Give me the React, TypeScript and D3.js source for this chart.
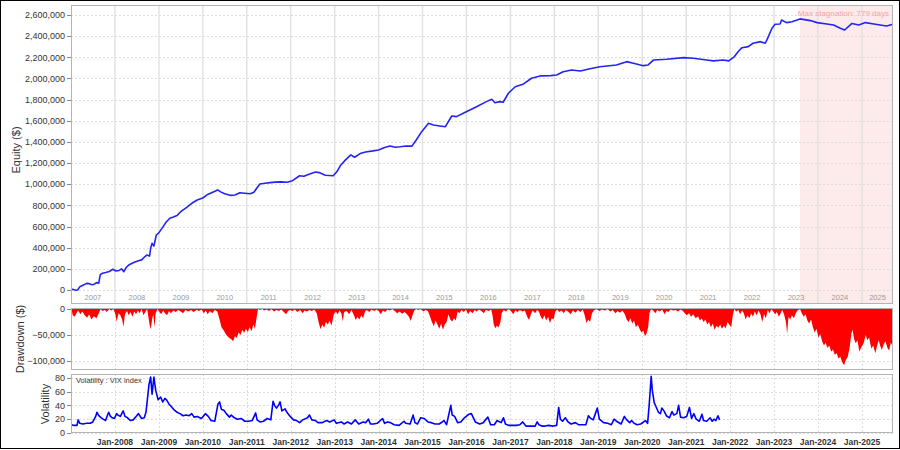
import React from "react";
import * as d3 from "d3";

// ---------- DATA ----------
// Equity curve (thousands of $)
const equityDates = [
  "2007-01-01","2007-01-20","2007-02-10","2007-02-25","2007-03-15","2007-04-10","2007-05-10","2007-06-01","2007-06-25","2007-07-15",
  "2007-08-01","2007-08-20","2007-09-01","2007-09-20","2007-10-15","2007-11-15","2007-12-15","2008-01-10","2008-02-05","2008-02-25",
  "2008-03-15","2008-04-05","2008-04-25","2008-05-20","2008-06-15","2008-07-15","2008-08-10","2008-09-01","2008-09-25","2008-10-15",
  "2008-10-25","2008-11-05","2008-11-20","2008-12-10","2008-12-31","2009-02-05","2009-03-01","2009-04-01","2009-05-01","2009-06-01",
  "2009-07-01","2009-08-20","2009-10-01","2009-11-15","2009-12-31","2010-02-05","2010-03-15","2010-05-05","2010-05-25","2010-07-01",
  "2010-08-15","2010-09-25","2010-11-05","2010-12-15","2011-01-31","2011-03-01","2011-04-20","2011-06-01","2011-07-15","2011-08-25",
  "2011-10-15","2011-12-01","2012-01-10","2012-03-15","2012-04-20","2012-06-01","2012-07-25","2012-08-25","2012-10-15","2012-12-20",
  "2013-01-20","2013-02-20","2013-04-01","2013-05-15","2013-06-15","2013-08-01","2013-09-15","2013-11-15","2014-01-01","2014-02-15",
  "2014-04-05","2014-05-20","2014-07-01","2014-08-15","2014-10-05","2014-11-10","2014-12-25","2015-02-20","2015-04-01","2015-05-25",
  "2015-07-10","2015-09-01","2015-10-10","2015-12-31","2016-03-25","2016-06-15","2016-07-30","2016-08-25","2016-10-05","2016-11-01",
  "2016-12-15","2017-02-10","2017-04-20","2017-06-25","2017-09-05","2017-11-30","2018-01-20","2018-03-15","2018-05-25","2018-08-05",
  "2018-10-15","2019-01-15","2019-06-01","2019-08-25","2019-10-20","2020-01-10","2020-02-20","2020-04-05","2020-07-20","2020-12-10",
  "2021-03-01","2021-06-20","2021-08-15","2021-11-05","2021-12-20","2022-02-01","2022-03-10","2022-04-10","2022-06-01","2022-07-10",
  "2022-09-10","2022-10-20","2022-11-05","2022-12-15","2023-01-10","2023-02-20","2023-03-05","2023-04-15","2023-05-30","2023-08-05",
  "2023-10-30","2023-12-25","2024-03-15","2024-05-10","2024-07-05","2024-08-10","2024-10-10","2024-12-05","2025-01-30","2025-04-10",
  "2025-06-01","2025-07-25","2025-09-15"
];
const equityValues = [
  10,5,-3,0,30,45,63,60,50,55,
  70,65,145,158,165,175,196,180,185,200,
  173,215,236,250,265,277,285,310,331,320,
  400,441,415,520,540,599,640,678,690,705,
  740,782,820,851,870,900,920,946,930,910,
  895,898,920,915,910,925,1002,1010,1015,1020,
  1022,1018,1030,1080,1075,1095,1115,1110,1085,1080,
  1120,1180,1230,1277,1255,1290,1305,1315,1324,1345,
  1362,1350,1355,1362,1360,1418,1497,1576,1560,1551,
  1544,1645,1639,1686,1733,1781,1803,1771,1781,1775,
  1860,1922,1948,2002,2024,2027,2033,2064,2080,2071,
  2090,2111,2128,2159,2143,2121,2128,2175,2181,2197,
  2191,2175,2166,2175,2166,2201,2255,2291,2301,2333,
  2348,2333,2370,2475,2513,2515,2553,2528,2537,2563,
  2547,2528,2515,2505,2475,2458,2520,2505,2528,2515,
  2505,2496,2513
];

// Drawdown (thousands of $)
const drawdownDates = [
  "2007-01-05","2007-01-15","2007-02-01","2007-02-15","2007-03-01","2007-03-20","2007-04-05","2007-04-25","2007-05-15","2007-06-01",
  "2007-06-20","2007-07-10","2007-08-01","2007-08-20","2007-09-05","2007-09-20","2007-10-10","2007-10-25","2007-11-15","2007-12-01",
  "2007-12-20","2008-01-05","2008-01-15","2008-02-01","2008-02-15","2008-03-01","2008-03-12","2008-03-25","2008-04-10","2008-04-25",
  "2008-05-10","2008-05-25","2008-06-10","2008-06-25","2008-07-10","2008-07-25","2008-08-10","2008-08-25","2008-09-10","2008-09-25",
  "2008-10-05","2008-10-15","2008-10-25","2008-11-05","2008-11-15","2008-11-25","2008-12-05","2008-12-20","2009-01-05","2009-01-20",
  "2009-02-05","2009-02-20","2009-03-10","2009-03-25","2009-04-10","2009-05-01","2009-05-20","2009-06-10","2009-07-01","2009-07-20",
  "2009-08-10","2009-09-01","2009-09-25","2009-10-15","2009-11-10","2009-12-01","2009-12-20","2010-01-10","2010-01-25","2010-02-10",
  "2010-03-01","2010-03-20","2010-04-10","2010-05-01","2010-05-20","2010-06-05","2010-06-25","2010-07-15","2010-08-05","2010-08-25",
  "2010-09-10","2010-09-25","2010-10-10","2010-10-25","2010-11-10","2010-11-25","2010-12-10","2010-12-25","2011-01-10","2011-01-25",
  "2011-02-10","2011-02-25","2011-03-10","2011-03-25","2011-04-05","2011-04-20","2011-05-10","2011-05-25","2011-06-15","2011-07-05",
  "2011-07-25","2011-08-15","2011-09-05","2011-09-25","2011-10-15","2011-11-05","2011-11-25","2011-12-10","2011-12-25","2012-01-15",
  "2012-02-05","2012-02-25","2012-03-20","2012-04-10","2012-04-25","2012-05-15","2012-06-05","2012-06-25","2012-07-15","2012-08-05",
  "2012-08-20","2012-09-05","2012-09-20","2012-10-05","2012-10-20","2012-11-05","2012-11-20","2012-12-05","2012-12-25","2013-01-10",
  "2013-01-25","2013-02-10","2013-02-25","2013-03-10","2013-03-20","2013-04-10","2013-05-01","2013-05-20","2013-06-10","2013-06-25",
  "2013-07-10","2013-07-25","2013-08-10","2013-08-25","2013-09-10","2013-09-25","2013-10-15","2013-11-05","2013-11-25","2013-12-15",
  "2014-01-05","2014-01-20","2014-02-05","2014-02-25","2014-03-15","2014-04-05","2014-04-25","2014-05-15","2014-06-05","2014-06-25",
  "2014-07-15","2014-08-05","2014-08-25","2014-09-10","2014-09-25","2014-10-10","2014-10-25","2014-11-10","2014-11-25","2014-12-15",
  "2015-01-10","2015-01-25","2015-02-15","2015-03-05","2015-03-20","2015-04-05","2015-04-20","2015-05-05","2015-05-20","2015-06-05",
  "2015-06-20","2015-07-05","2015-07-20","2015-08-05","2015-08-20","2015-09-05","2015-09-20","2015-10-05","2015-10-20","2015-11-05",
  "2015-11-20","2015-12-10","2015-12-28","2016-01-15","2016-02-01","2016-02-20","2016-03-10","2016-03-25","2016-04-15","2016-05-05",
  "2016-05-25","2016-06-10","2016-07-05","2016-07-25","2016-08-05","2016-08-15","2016-08-28","2016-09-10","2016-09-25","2016-10-10",
  "2016-10-20","2016-11-05","2016-11-25","2016-12-15","2017-01-05","2017-01-25","2017-02-10","2017-03-01","2017-03-20","2017-04-10",
  "2017-05-01","2017-05-20","2017-06-05","2017-06-20","2017-07-05","2017-07-25","2017-08-10","2017-08-25","2017-09-10","2017-09-25",
  "2017-10-10","2017-10-25","2017-11-10","2017-11-25","2017-12-10","2017-12-25","2018-01-10","2018-01-25","2018-02-10","2018-03-01",
  "2018-03-20","2018-04-05","2018-04-25","2018-05-15","2018-06-05","2018-06-25","2018-07-15","2018-08-05","2018-08-25","2018-09-10",
  "2018-09-25","2018-10-10","2018-10-25","2018-11-10","2018-11-25","2018-12-15","2019-01-10","2019-02-01","2019-02-25","2019-03-20",
  "2019-04-10","2019-05-01","2019-05-25","2019-06-10","2019-07-01","2019-07-20","2019-08-10","2019-08-25","2019-09-10","2019-09-25",
  "2019-10-10","2019-10-25","2019-11-10","2019-11-25","2019-12-10","2019-12-25","2020-01-10","2020-01-25","2020-02-05","2020-02-20",
  "2020-03-01","2020-03-15","2020-04-01","2020-04-20","2020-05-05","2020-05-25","2020-06-15","2020-07-05","2020-07-20","2020-08-05",
  "2020-08-25","2020-09-15","2020-10-05","2020-10-25","2020-11-15","2020-12-05","2020-12-20","2021-01-05","2021-01-25","2021-02-10",
  "2021-03-01","2021-03-20","2021-04-10","2021-04-25","2021-05-10","2021-05-25","2021-06-10","2021-06-25","2021-07-10","2021-07-25",
  "2021-08-10","2021-08-25","2021-09-10","2021-09-25","2021-10-10","2021-10-25","2021-11-10","2021-11-25","2021-12-10","2021-12-25",
  "2022-01-10","2022-01-25","2022-02-05","2022-02-20","2022-03-10","2022-03-25","2022-04-10","2022-04-25","2022-05-10","2022-05-25",
  "2022-06-10","2022-06-25","2022-07-10","2022-07-25","2022-08-10","2022-08-25","2022-09-10","2022-09-25","2022-10-10","2022-10-25",
  "2022-11-10","2022-11-25","2022-12-10","2022-12-25","2023-01-10","2023-01-25","2023-02-10","2023-02-25","2023-03-10","2023-03-25",
  "2023-04-10","2023-04-20","2023-05-01","2023-05-15","2023-05-30","2023-06-15","2023-07-01","2023-07-15","2023-08-05","2023-08-20",
  "2023-09-05","2023-09-20","2023-10-05","2023-10-20","2023-11-05","2023-11-20","2023-12-05","2023-12-20","2024-01-05","2024-01-20",
  "2024-02-05","2024-02-20","2024-03-05","2024-03-20","2024-04-05","2024-04-20","2024-05-05","2024-05-20","2024-06-05","2024-06-20",
  "2024-07-05","2024-07-20","2024-08-05","2024-08-20","2024-09-05","2024-09-20","2024-10-05","2024-10-15","2024-10-28","2024-11-10",
  "2024-11-25","2024-12-10","2024-12-25","2025-01-15","2025-02-01","2025-02-15","2025-03-01","2025-03-20","2025-04-05","2025-04-22",
  "2025-05-05","2025-05-20","2025-06-01","2025-06-15","2025-07-01","2025-07-15","2025-08-01","2025-08-15","2025-08-28","2025-09-15"
];
const drawdownValues = [
  0,-12,-15,-8,-3,-10,-5,-12,-17,-10,
  -20,-14,-18,-8,0,-4,-2,-6,0,-3,
  0,-10,-24,-8,-12,-20,-34,-10,-4,-12,
  -6,-15,-5,-10,-3,-8,0,-12,-6,0,
  -15,-30,-39,-20,-10,-35,-8,0,-6,-10,
  -3,-8,-12,-4,-8,-3,-6,-2,-5,-8,
  -2,-5,-2,-6,-2,-4,-1,-8,-3,-10,
  -4,-8,-2,-5,-20,-35,-42,-50,-55,-58,
  -62,-52,-56,-45,-50,-40,-46,-38,-44,-35,
  -43,-30,-38,-15,0,-2,0,-3,-1,-4,
  0,-5,-2,-4,-1,-6,-10,-4,-2,-4,
  -1,-6,-2,-8,-3,-5,-2,-4,-1,-8,
  -25,-39,-30,-36,-25,-30,-22,-32,-10,-5,
  -10,-3,-8,-24,-6,-4,-10,-2,-12,-21,
  -15,-20,-12,-18,-5,-2,-6,-1,-4,-1,
  -5,-10,-3,-6,-1,-3,0,-4,-8,-5,
  -9,-6,-10,-15,-23,-12,-3,0,-2,0,
  -5,-2,-4,-15,-25,-33,-22,-30,-38,-28,
  -40,-30,-25,-10,-20,-24,-18,-22,-5,-8,
  -2,-6,-1,-10,-4,-8,-2,-5,-1,-4,
  -8,-2,-4,-1,-12,-30,-37,-32,-35,-25,
  -8,-2,-5,0,-4,-10,-3,-6,-2,-5,
  -3,-15,-21,-10,-3,-8,-2,-5,-15,-20,
  -12,-22,-15,-27,-18,-20,-5,-1,-6,-3,
  -8,-2,-5,-10,-3,-7,-2,-6,-1,-12,
  -27,-20,-25,-8,-3,0,-4,-1,-3,0,
  -5,-2,-8,-4,-7,-3,-10,-20,-25,-18,
  -28,-22,-35,-30,-38,-45,-42,-52,-48,-35,
  -8,0,-3,-8,-2,-5,-1,-10,-4,-6,
  -1,-3,-2,-5,-1,-4,-8,-12,-8,-15,
  -10,-18,-14,-22,-18,-25,-20,-30,-25,-35,
  -28,-40,-32,-36,-30,-38,-32,-37,-25,-30,
  -35,-10,0,-5,-2,-10,-3,-8,-20,-12,
  -18,-8,-15,-5,-12,-3,-10,-25,-10,-18,
  -2,-8,0,-5,-10,-6,-15,-8,-2,-10,
  -25,-48,-15,-20,-12,-18,-8,-3,0,-8,
  -15,-10,-22,-28,-20,-35,-45,-38,-55,-48,
  -62,-70,-65,-75,-70,-82,-78,-88,-85,-95,
  -92,-102,-108,-98,-92,-75,-47,-40,-58,-66,
  -60,-82,-74,-66,-50,-60,-55,-76,-70,-85,
  -72,-60,-70,-79,-68,-62,-75,-80,-65,-72
];

// Volatility (VIX index)
const vixDates = [
  "2007-01-05","2007-01-25","2007-02-20","2007-03-01","2007-03-15","2007-04-10","2007-05-10","2007-06-10","2007-07-01","2007-07-25",
  "2007-08-05","2007-08-20","2007-09-10","2007-09-25","2007-10-15","2007-11-01","2007-11-10","2007-11-25","2007-12-10","2007-12-28",
  "2008-01-15","2008-01-25","2008-02-15","2008-03-10","2008-03-25","2008-04-15","2008-05-10","2008-06-01","2008-06-25","2008-07-15",
  "2008-08-10","2008-09-01","2008-09-15","2008-09-25","2008-10-10","2008-10-24","2008-11-05","2008-11-20","2008-12-05","2008-12-25",
  "2009-01-15","2009-02-01","2009-02-20","2009-03-05","2009-03-25","2009-04-15","2009-05-10","2009-06-01","2009-06-25","2009-07-20",
  "2009-08-15","2009-09-10","2009-10-01","2009-10-20","2009-11-15","2009-12-20","2010-01-22","2010-02-15","2010-03-10","2010-04-10",
  "2010-05-07","2010-05-20","2010-06-05","2010-06-25","2010-07-15","2010-08-10","2010-08-25","2010-09-20","2010-10-15","2010-11-15",
  "2010-12-15","2011-01-15","2011-02-15","2011-03-16","2011-03-28","2011-04-20","2011-05-20","2011-06-20","2011-07-20","2011-08-08",
  "2011-08-20","2011-09-05","2011-09-25","2011-10-05","2011-10-20","2011-11-15","2011-12-01","2011-12-28","2012-01-25","2012-02-20",
  "2012-03-15","2012-04-10","2012-05-20","2012-06-05","2012-06-25","2012-07-25","2012-08-15","2012-09-20","2012-10-25","2012-11-20",
  "2012-12-28","2013-01-15","2013-02-25","2013-03-20","2013-04-18","2013-05-20","2013-06-20","2013-07-20","2013-08-25","2013-09-15",
  "2013-10-08","2013-10-25","2013-11-20","2013-12-20","2014-02-03","2014-02-20","2014-03-15","2014-04-10","2014-05-10","2014-06-20",
  "2014-07-31","2014-08-15","2014-09-20","2014-10-15","2014-10-30","2014-11-20","2014-12-16","2015-01-15","2015-02-15","2015-03-15",
  "2015-04-15","2015-05-20","2015-06-29","2015-07-20","2015-08-24","2015-09-05","2015-09-25","2015-10-20","2015-11-15","2015-12-15",
  "2016-01-20","2016-02-11","2016-03-15","2016-04-20","2016-05-20","2016-06-27","2016-07-20","2016-08-20","2016-09-12","2016-10-15",
  "2016-11-04","2016-11-20","2016-12-20","2017-01-25","2017-02-20","2017-03-20","2017-04-13","2017-05-10","2017-06-15","2017-07-25",
  "2017-08-11","2017-08-25","2017-09-20","2017-10-15","2017-11-15","2017-12-20","2018-01-20","2018-02-06","2018-02-20","2018-03-10",
  "2018-04-02","2018-04-25","2018-05-20","2018-06-25","2018-07-20","2018-08-20","2018-09-20","2018-10-11","2018-10-25","2018-11-20",
  "2018-12-24","2019-01-10","2019-02-15","2019-03-20","2019-04-20","2019-05-13","2019-06-01","2019-07-10","2019-08-06","2019-08-25",
  "2019-09-20","2019-10-05","2019-10-25","2019-11-20","2019-12-20","2020-01-28","2020-02-15","2020-02-28","2020-03-16","2020-03-25",
  "2020-04-10","2020-04-25","2020-05-15","2020-06-01","2020-06-12","2020-06-30","2020-07-20","2020-08-15","2020-09-05","2020-09-20",
  "2020-10-15","2020-10-30","2020-11-15","2020-12-10","2021-01-05","2021-01-28","2021-02-15","2021-03-05","2021-03-25","2021-04-20",
  "2021-05-12","2021-05-25","2021-06-20","2021-07-19","2021-08-05","2021-08-20","2021-09-05","2021-09-22","2021-10-05"
];
const vixValues = [
  12,11,11,19,14,13,14,14,16,24,
  30,25,22,20,18,26,30,24,22,21,
  28,26,24,32,24,22,18,19,24,28,
  21,22,30,45,70,81,56,81,62,48,
  52,45,50,48,42,38,33,30,28,25,
  26,25,28,23,24,21,28,24,18,17,
  42,45,34,33,28,23,26,22,20,21,
  17,17,18,29,19,16,17,21,19,46,
  40,36,41,45,32,35,30,24,19,18,
  15,19,22,26,19,18,15,15,18,16,
  19,14,16,13,16,13,19,13,16,15,
  20,13,13,14,21,14,16,15,12,11,
  17,14,13,26,15,13,22,21,16,15,
  13,13,18,12,40,26,24,15,16,22,
  27,28,16,13,15,23,12,12,18,15,
  22,13,11,11,11,12,16,10,10,10,
  16,12,10,10,11,10,11,37,20,17,
  22,16,13,15,12,12,12,25,22,19,
  36,20,15,14,12,20,17,13,24,19,
  15,18,14,12,13,18,14,40,82,62,
  44,38,30,28,36,32,25,22,31,26,
  28,40,23,22,24,37,21,28,20,17,
  27,18,17,22,17,20,18,25,19
];

const equityTicks = [0, 200, 400, 600, 800, 1000, 1200, 1400, 1600, 1800, 2000, 2200, 2400, 2600];
const drawdownTicks = [0, -50, -100];
const vixTicks = [0, 20, 40, 60, 80];
const yearLabels = ["2007","2008","2009","2010","2011","2012","2013","2014","2015","2016","2017","2018","2019","2020","2021","2022","2023","2024","2025"];
const stagnationStart = "2023-08-05";
const stagnationLabel = "Max stagnation: 779 days";
const vixLabel = "Volatility : VIX index";

// ---------- LAYOUT ----------
const W = 900, H = 450;
const X0 = 71, X1 = 893;
const P1 = { y0: 5, y1: 304 };
const P2 = { y0: 308, y1: 370 };
const P3 = { y0: 374, y1: 433 };
const FONT = "'Liberation Sans', Arial, sans-serif";
const FRAME = "#b4b4b4";
const GRID = "#dcdcdc";

const parse = d3.timeParse("%Y-%m-%d");
const endDate = new Date(2025, 8, 16);
const x = d3.scaleTime().domain([new Date(2007, 0, 1), endDate]).range([X0, X1]);
const yEq = d3.scaleLinear().domain([0, 2600]).range([290, 15]);
const yDd = d3.scaleLinear().domain([0, -100]).range([309, 361]);
const yVix = d3.scaleLinear().domain([0, 80]).range([433, 377.7]);

const fmt = d3.format(",");

export default function App() {
  const eq = equityDates.map((d, i) => ({ date: parse(d) as Date, v: equityValues[i] }));
  const ddData = drawdownDates.map((d, i) => ({ date: parse(d) as Date, v: drawdownValues[i] }));
  const vix = vixDates.map((d, i) => ({ date: parse(d) as Date, v: vixValues[i] }));

  const eqLine = d3.line<{ date: Date; v: number }>().x(d => x(d.date)).y(d => yEq(d.v))(eq) || "";
  const ddArea = d3.area<{ date: Date; v: number }>()
    .x(d => x(d.date)).y0(yDd(0)).y1(d => Math.min(yDd(d.v), P2.y1))(ddData) || "";
  const vixLine = d3.line<{ date: Date; v: number }>().x(d => x(d.date)).y(d => yVix(d.v))(vix) || "";

  const yearStarts = yearLabels.map(y => new Date(+y, 0, 1));
  const innerYears = yearStarts.slice(1);
  const stagX = x(parse(stagnationStart) as Date);

  return (
    <svg width={W} height={H} style={{ position: "absolute", left: 0, top: 0, background: "#fff" }} fontFamily={FONT}>
      <rect x={0} y={0} width={W} height={H} fill="#fff" />

      {/* ===== Panel 1: Equity ===== */}
      <rect x={stagX} y={P1.y0} width={X1 - stagX} height={P1.y1 - P1.y0} fill="#fdeaea" />
      {equityTicks.map(t => (
        <line key={"eg" + t} x1={X0} x2={X1} y1={Math.round(yEq(t)) + 0.5} y2={Math.round(yEq(t)) + 0.5}
          stroke={GRID} strokeDasharray="2,2" />
      ))}
      {innerYears.map((d, i) => (
        <line key={"ey" + i} x1={x(d)} x2={x(d)} y1={P1.y0} y2={P1.y1} stroke="#e2e2e2" strokeWidth={1.5} />
      ))}
      {yearLabels.map((y, i) => {
        const a = x(yearStarts[i]);
        const b = i + 1 < yearStarts.length ? x(yearStarts[i + 1]) : X1;
        return (
          <text key={"yl" + y} x={(a + b) / 2} y={299.5} fontSize={7.5} fill="#9a9a9a" textAnchor="middle">{y}</text>
        );
      })}
      <text x={889} y={15.5} fontSize={8} fill="#f4a5a5" textAnchor="end">{stagnationLabel}</text>
      <path d={eqLine} fill="none" stroke="#2424f5" strokeWidth={1.6} strokeLinejoin="round" />
      <rect x={X0 + 0.5} y={P1.y0 + 0.5} width={X1 - X0 - 1} height={P1.y1 - P1.y0 - 1} fill="none" stroke={FRAME} />
      {equityTicks.map(t => (
        <g key={"et" + t}>
          <line x1={67} x2={71} y1={Math.round(yEq(t)) + 0.5} y2={Math.round(yEq(t)) + 0.5} stroke="#888" />
          <text x={65} y={yEq(t) + 3.2} fontSize={9} fill="#333" textAnchor="end">{fmt(t * 1000)}</text>
        </g>
      ))}
      <text transform={`translate(20,150) rotate(-90)`} fontSize={11} fill="#333" textAnchor="middle">Equity ($)</text>

      {/* ===== Panel 2: Drawdown ===== */}
      {drawdownTicks.map(t => (
        <line key={"dg" + t} x1={X0} x2={X1} y1={Math.round(yDd(t)) + 0.5} y2={Math.round(yDd(t)) + 0.5}
          stroke={GRID} strokeDasharray="2,2" />
      ))}
      {innerYears.map((d, i) => (
        <line key={"dy" + i} x1={Math.round(x(d)) + 0.5} x2={Math.round(x(d)) + 0.5} y1={P2.y0} y2={P2.y1}
          stroke={GRID} strokeDasharray="2,2" />
      ))}
      <path d={ddArea} fill="#ff0000" />
      <rect x={X0 + 0.5} y={P2.y0 + 0.5} width={X1 - X0 - 1} height={P2.y1 - P2.y0 - 1} fill="none" stroke={FRAME} />
      {drawdownTicks.map(t => (
        <g key={"dt" + t}>
          <line x1={67} x2={71} y1={Math.round(yDd(t)) + 0.5} y2={Math.round(yDd(t)) + 0.5} stroke="#888" />
          <text x={65} y={yDd(t) + 3.2} fontSize={9} fill="#333" textAnchor="end">{fmt(t * 1000)}</text>
        </g>
      ))}
      <text transform={`translate(24,339) rotate(-90)`} fontSize={11} fill="#333" textAnchor="middle">Drawdown ($)</text>

      {/* ===== Panel 3: Volatility ===== */}
      {vixTicks.map(t => (
        <line key={"vg" + t} x1={X0} x2={X1} y1={Math.round(yVix(t)) + 0.5} y2={Math.round(yVix(t)) + 0.5}
          stroke={GRID} strokeDasharray="2,2" />
      ))}
      {innerYears.map((d, i) => (
        <line key={"vy" + i} x1={Math.round(x(d)) + 0.5} x2={Math.round(x(d)) + 0.5} y1={P3.y0} y2={P3.y1}
          stroke={GRID} strokeDasharray="2,2" />
      ))}
      <path d={vixLine} fill="none" stroke="#0000ff" strokeWidth={1.6} strokeLinejoin="round" />
      <text x={76} y={383} fontSize={7.5} fill="#333">{vixLabel}</text>
      <rect x={X0 + 0.5} y={P3.y0 + 0.5} width={X1 - X0 - 1} height={P3.y1 - P3.y0 - 1} fill="none" stroke={FRAME} />
      {vixTicks.map(t => (
        <g key={"vt" + t}>
          <line x1={67} x2={71} y1={Math.round(yVix(t)) + 0.5} y2={Math.round(yVix(t)) + 0.5} stroke="#888" />
          <text x={65} y={yVix(t) + 3.2} fontSize={9} fill="#333" textAnchor="end">{t}</text>
        </g>
      ))}
      <text transform={`translate(49,404) rotate(-90)`} fontSize={11} fill="#333" textAnchor="middle">Volatility</text>
      {innerYears.map((d, i) => (
        <text key={"xl" + i} x={x(d)} y={444.5} fontSize={8.5} fontWeight="bold" fill="#333" textAnchor="middle">
          {d3.timeFormat("Jan-%Y")(d)}
        </text>
      ))}

      {/* outer border */}
      <rect x={0.5} y={0.5} width={W - 1} height={H - 2} fill="none" stroke="#000" />
    </svg>
  );
}
